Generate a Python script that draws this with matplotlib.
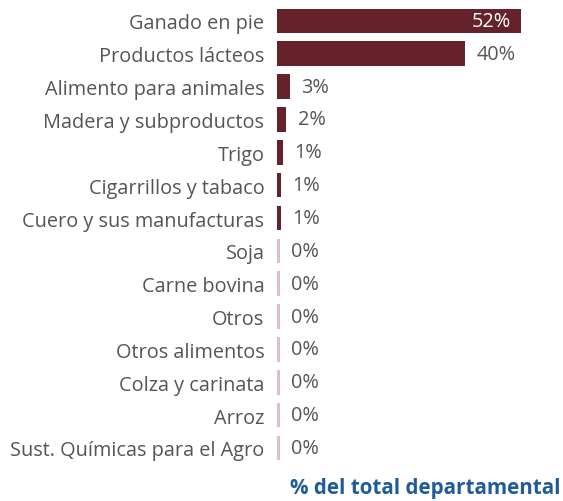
import matplotlib
matplotlib.use("Agg")
import matplotlib.pyplot as plt

# Datos: participación en el total departamental (%)
categorias = ["Ganado en pie", "Productos lácteos", "Alimento para animales",
              "Madera y subproductos", "Trigo", "Cigarrillos y tabaco",
              "Cuero y sus manufacturas", "Soja", "Carne bovina", "Otros",
              "Otros alimentos", "Colza y carinata", "Arroz",
              "Sust. Químicas para el Agro"]
valores = [51.9, 40.1, 2.8, 2.0, 1.3, 0.9, 0.9, 0, 0, 0, 0, 0, 0, 0]
etiquetas = ["52%", "40%", "3%", "2%", "1%", "1%", "1%",
             "0%", "0%", "0%", "0%", "0%", "0%", "0%"]

plt.rcParams['font.family'] = ['Open Sans', 'DejaVu Sans']

rojo = "#66222A"
rosa = "#DDBFC4"
gris = "#555555"

fig = plt.figure(figsize=(5.63, 5.02), dpi=100)
ax = fig.add_axes([0.492, 0.073, 0.508, 0.916])

y = list(range(len(categorias)))
anchos = [v if v > 0 else 0.7 for v in valores]
colores = [rojo if v > 0 else rosa for v in valores]
ax.barh(y, anchos, height=0.75, color=colores)

for i, (v, t) in enumerate(zip(valores, etiquetas)):
    if v > 45:
        ax.annotate(t, (v, i), xytext=(-7, 0), textcoords="offset points",
                    ha="right", va="center", color="white", fontsize=14.3)
    else:
        ax.annotate(t, (max(v, 0.7), i), xytext=(8, 0), textcoords="offset points",
                    ha="left", va="center", color=gris, fontsize=14.3)

ax.set_yticks(y)
ax.set_yticklabels(categorias, fontsize=14.3, color=gris)
ax.tick_params(axis="y", length=0, pad=9)
ax.set_xticks([])
ax.set_xlim(0, 60.85)
ax.set_ylim(len(categorias) - 0.5, -0.5)
for s in ax.spines.values():
    s.set_visible(False)

fig.text(0.515, 0.026, "% del total departamental", fontsize=14.9,
         fontweight="bold", color="#1F5C99", ha="left", va="center")

fig.savefig("out.png", dpi=100)
